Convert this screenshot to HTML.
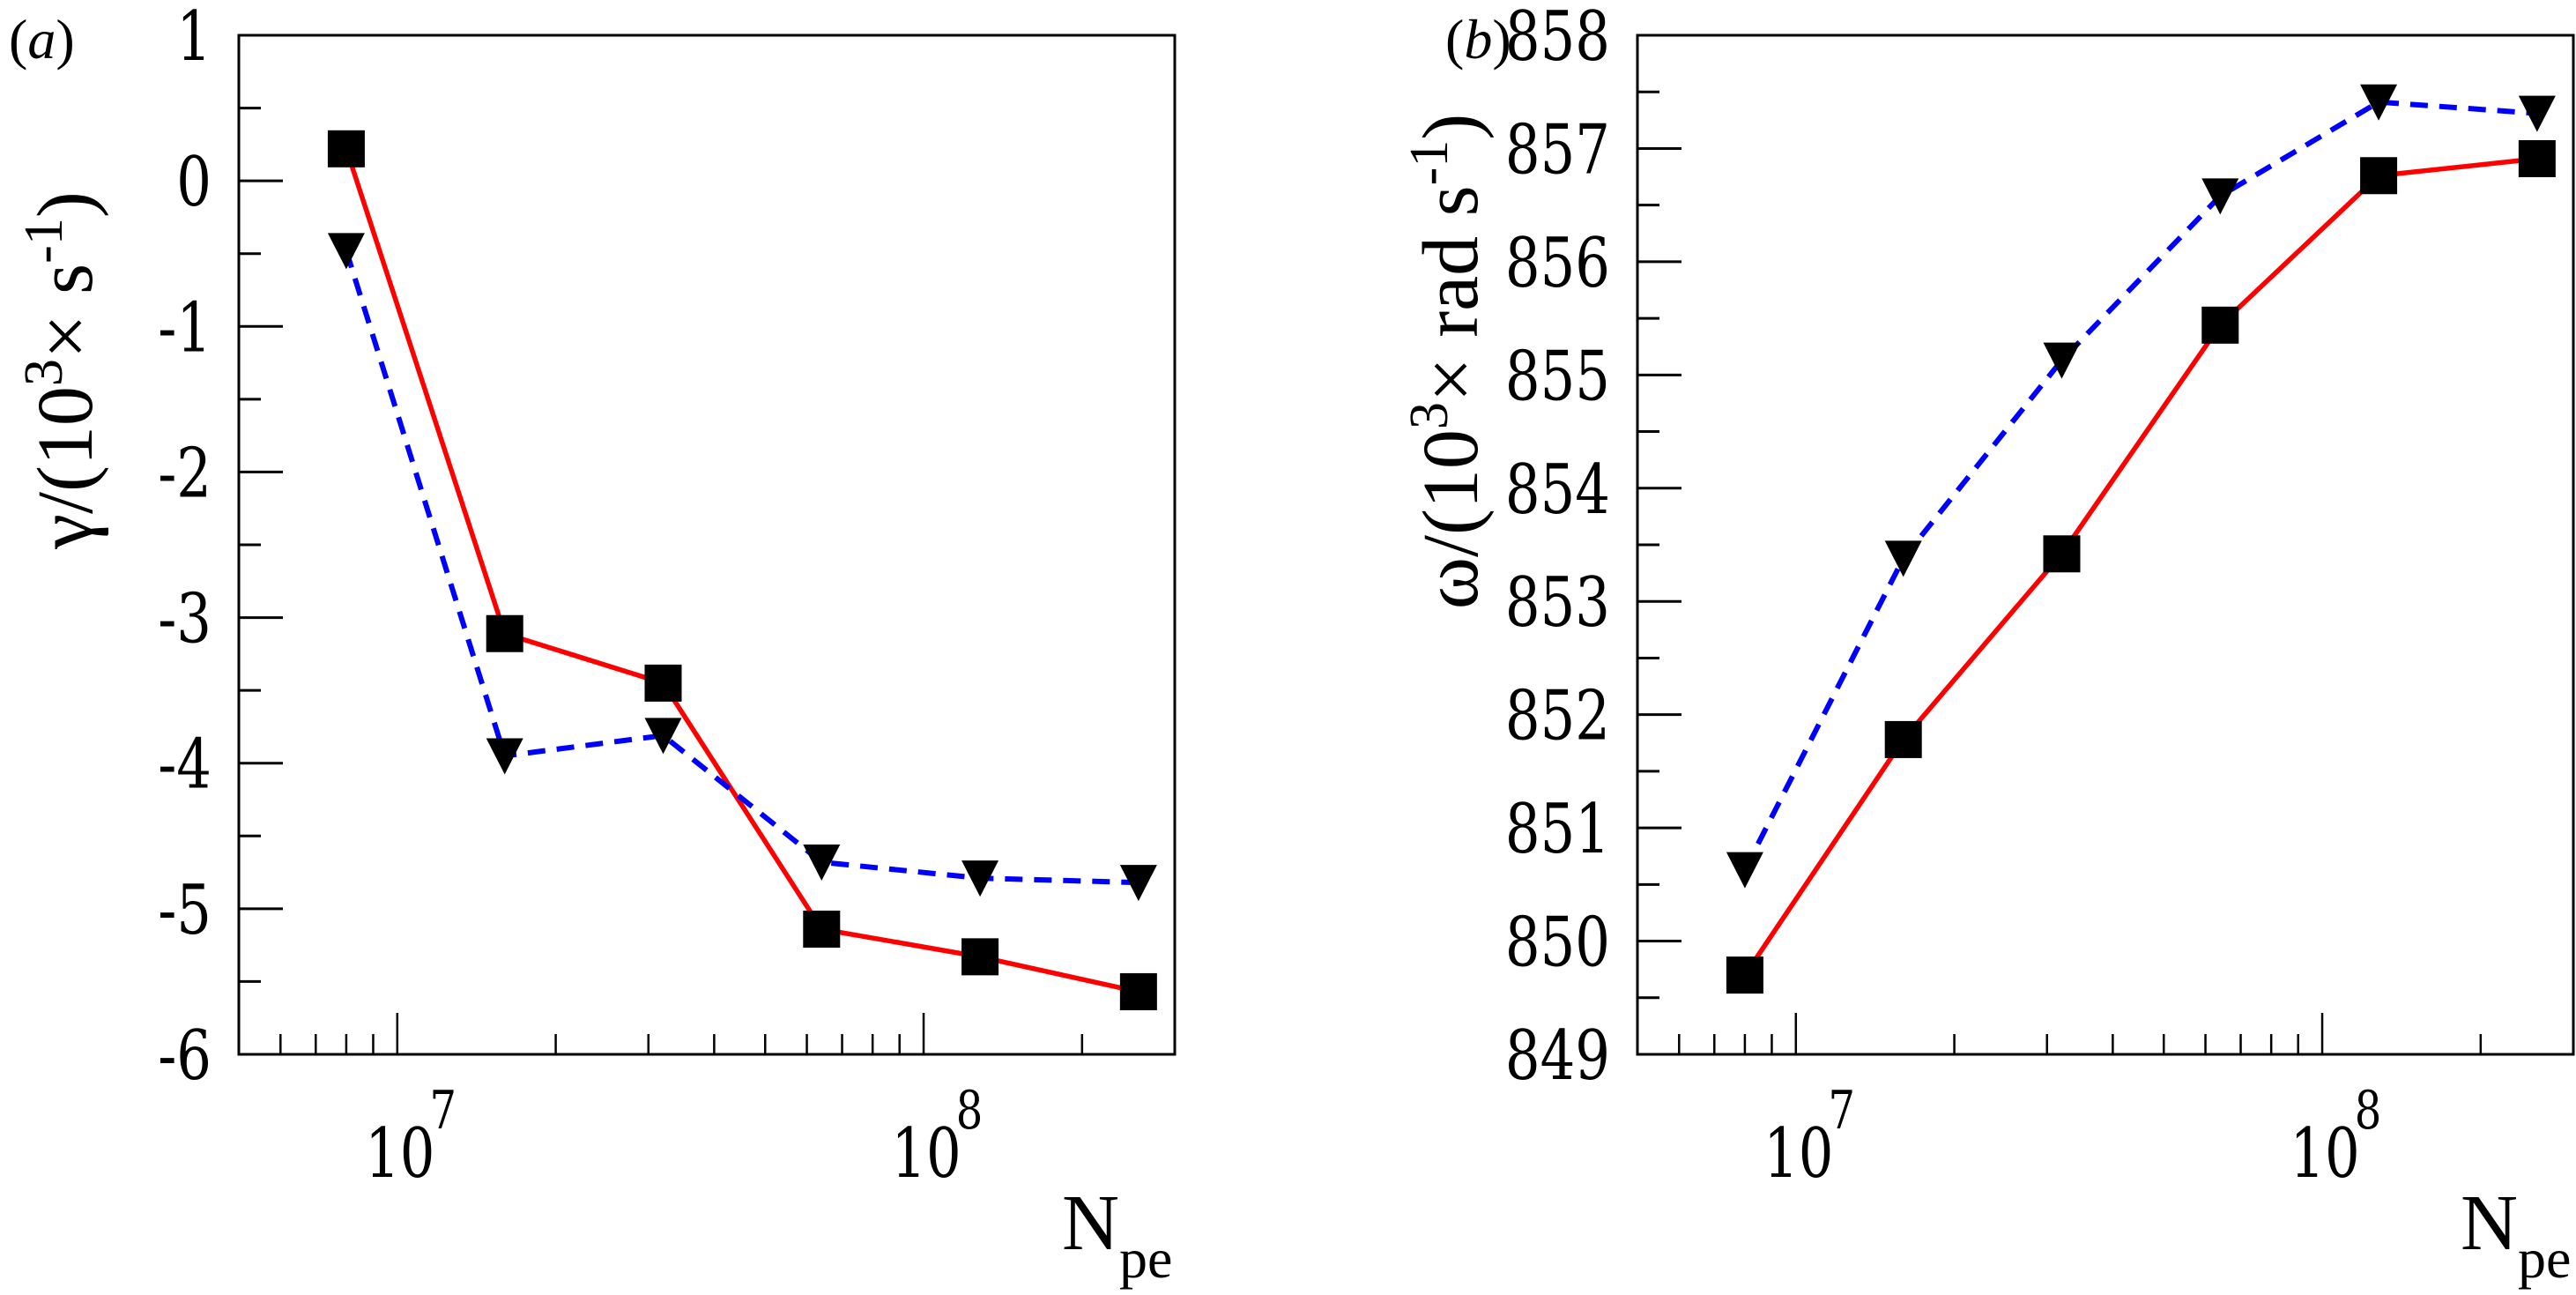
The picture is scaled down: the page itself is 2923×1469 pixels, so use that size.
<!DOCTYPE html>
<html><head><meta charset="utf-8"><style>
html,body{margin:0;padding:0;background:#fff;}
svg, svg text{font-family:"Liberation Serif","DejaVu Serif",serif;}
svg text.num{font-family:"DejaVu Serif","Liberation Serif",serif;}
</style></head><body>
<svg id="fig" width="2923" height="1464" viewBox="0 0 2923 1464" xmlns="http://www.w3.org/2000/svg"></svg>
<script>
const xValues = [8e6, 1.6e7, 3.2e7, 6.4e7, 1.28e8, 2.56e8];
const gammaSquares = [0.22, -3.11, -3.45, -5.14, -5.33, -5.57];
const gammaTriangles = [-0.48, -3.95, -3.81, -4.68, -4.79, -4.82];
const omegaSquares = [849.70, 851.78, 853.42, 855.44, 856.76, 856.91];
const omegaTriangles = [850.63, 853.38, 855.13, 856.58, 857.41, 857.31];
const gammaTicks = [1, 0, -1, -2, -3, -4, -5, -6];
const omegaTicks = [858, 857, 856, 855, 854, 853, 852, 851, 850, 849];
const xMajorExps = [7, 8];

const NS = "http://www.w3.org/2000/svg";
const svg = document.getElementById('fig');
function el(tag, attrs, parent) {
  const e = document.createElementNS(NS, tag);
  for (const k in attrs) e.setAttribute(k, attrs[k]);
  (parent || svg).appendChild(e);
  return e;
}

function panel(cfg) {
  const g = el('g', {});
  
  
  const L = cfg.left, R = cfg.right, T = 40, B = 1196;
  const lx0 = Math.log10(5e6), lx1 = Math.log10(3e8);
  const X = v => L + (Math.log10(v) - lx0) / (lx1 - lx0) * (R - L);
  const Y = v => T + (cfg.ymax - v) / (cfg.ymax - cfg.ymin) * (B - T);

  const frame = el('rect', {x: L, y: T, width: R - L, height: B - T, fill: 'none', stroke: '#000', 'stroke-width': 3}, g);
  
  

  cfg.ticks.forEach((t, i) => {
    const y = Y(t);
    const tk = el('line', {x1: L, x2: L + 50, y1: y, y2: y, stroke: '#000', 'stroke-width': 3}, g);
    
    
    if (i < cfg.ticks.length - 1) {
      const ym = Y(t - cfg.step / 2);
      const mt = el('line', {x1: L, x2: L + 25, y1: ym, y2: ym, stroke: '#000', 'stroke-width': 3}, g);
      
      
    }
    const lb = el('text', {class: 'num', x: 0, y: 0, 'font-size': 78, 'text-anchor': 'end', transform: `translate(${L - 31},${y + 28}) scale(0.8,1)`}, g);
    lb.textContent = String(t);
    
    
  });

  for (let e = 6; e <= 8; e++) {
    for (let m = 1; m <= 9; m++) {
      const v = m * Math.pow(10, e);
      if (v <= 5e6 || v >= 3e8) continue;
      const x = X(v);
      const len = m === 1 ? 47 : 23;
      const tk = el('line', {x1: x, x2: x, y1: B, y2: B - len, stroke: '#000', 'stroke-width': 2.5}, g);
      
      
    }
  }
  xMajorExps.forEach(ex => {
    const x = X(Math.pow(10, ex));
    const t = el('text', {class: 'num', x: 0, y: 0, 'font-size': 78, 'text-anchor': 'middle', transform: `translate(${x + 3},1335) scale(0.8,1)`}, g);
    t.textContent = '10';
    
    
    const s = el('text', {class: 'num', x: 0, y: 0, 'font-size': 60, 'text-anchor': 'middle', transform: `translate(${x + 52},1280) scale(0.8,1)`}, g);
    s.textContent = String(ex);
    
    
  });

  const xt = el('text', {x: R - 128, y: 1417, 'font-size': 90}, g);
  
  
  xt.innerHTML = 'N<tspan font-size="64" dy="32">pe</tspan>';

  const yt = el('text', {x: 0, y: 0, 'font-size': 90, 'text-anchor': 'middle', transform: `translate(${cfg.ytx},${cfg.yty}) rotate(-90)`}, g);
  
  
  yt.innerHTML = cfg.ytitle;

  const pl = el('text', {x: cfg.plx, y: 66, 'font-size': 64}, g);
  
  
  pl.innerHTML = '(<tspan font-style="italic">' + cfg.letter + '</tspan>)';

  const ptsS = xValues.map((v, i) => X(v) + ',' + Y(cfg.sq[i])).join(' ');
  const ptsT = xValues.map((v, i) => X(v) + ',' + Y(cfg.tr[i])).join(' ');
  const lr = el('polyline', {points: ptsS, fill: 'none', stroke: '#ff0000', 'stroke-width': 5.5}, g);
  
  
  const lb2 = el('polyline', {points: ptsT, fill: 'none', stroke: '#0000ff', 'stroke-width': 6, 'stroke-dasharray': '20 13'}, g);
  
  

  xValues.forEach((v, i) => {
    const x = X(v), ys = Y(cfg.sq[i]), yt2 = Y(cfg.tr[i]);
    const sq = el('rect', {x: x - 21, y: ys - 21, width: 42, height: 42, fill: '#000'}, g);
    
    
    const tri = el('polygon', {points: `${x - 21},${yt2 - 20} ${x + 21},${yt2 - 20} ${x},${yt2 + 21}`, fill: '#000'}, g);
    
    
  });
}

panel({name: 'panel-a-growth-rate', left: 271, right: 1333, ymin: -6, ymax: 1, step: 1,
  ticks: gammaTicks, sq: gammaSquares, tr: gammaTriangles, letter: 'a', plx: 10,
  ytx: 104, yty: 420,
  ytitle: 'γ/(10<tspan font-size="62" dy="-34">3</tspan><tspan dy="34">× s</tspan><tspan font-size="62" dy="-34">-1</tspan><tspan dy="34">)</tspan>'});
panel({name: 'panel-b-frequency', left: 1858, right: 2920, ymin: 849, ymax: 858, step: 1,
  ticks: omegaTicks, sq: omegaSquares, tr: omegaTriangles, letter: 'b', plx: 1640,
  ytx: 1676, yty: 410,
  ytitle: 'ω/(10<tspan font-size="62" dy="-34">3</tspan><tspan dy="34">× rad s</tspan><tspan font-size="62" dy="-34">-1</tspan><tspan dy="34">)</tspan>'});
</script>
</body></html>
